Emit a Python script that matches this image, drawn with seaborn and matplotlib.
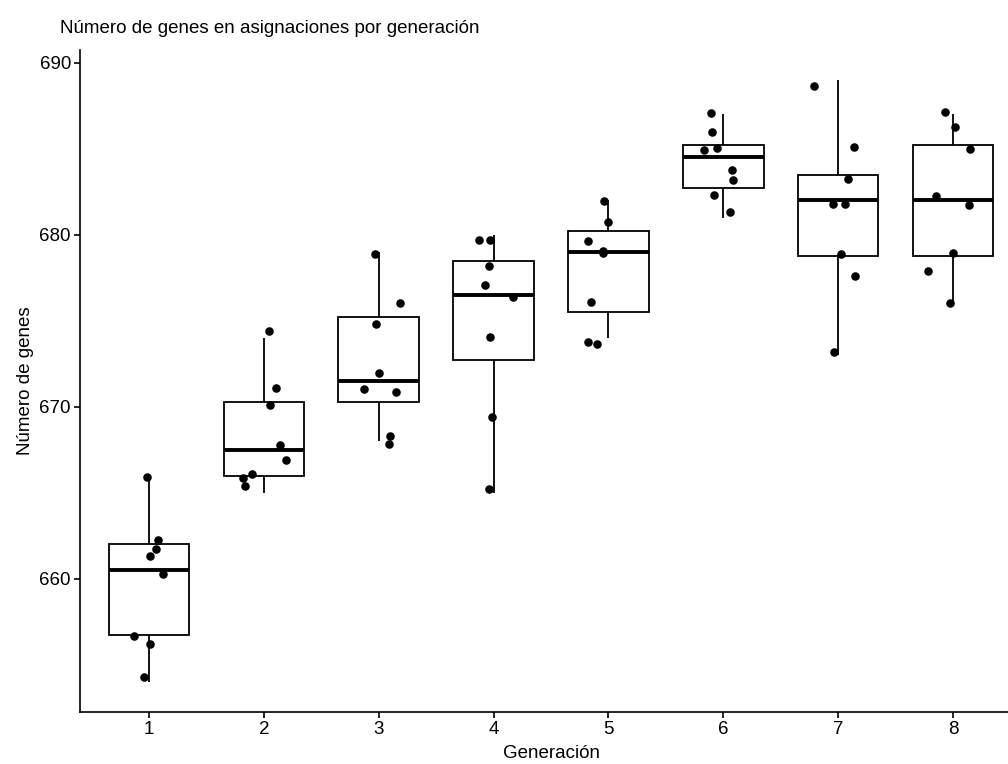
import matplotlib
matplotlib.use("Agg")
import matplotlib.pyplot as plt
import pandas as pd
import seaborn as sns

# ---- data ----
generation = [1] * 8 + [2] * 8 + [3] * 8 + [4] * 8 + [5] * 8 + [6] * 8 + [7] * 8 + [8] * 8

# underlying (integer) gene counts used for the box statistics
genes = [
    666, 662, 662, 661, 660, 657, 656, 654,
    674, 671, 670, 668, 667, 666, 666, 665,
    679, 676, 675, 672, 671, 671, 668, 668,
    680, 680, 678, 677, 676, 674, 669, 665,
    682, 681, 680, 679, 679, 676, 674, 674,
    687, 686, 685, 685, 684, 683, 682, 681,
    689, 685, 683, 682, 682, 679, 678, 673,
    687, 686, 685, 682, 682, 679, 678, 676,
]

# jittered point positions as drawn in the reference
point_y = [
    665.93, 662.25, 661.74, 661.30, 660.25, 656.67, 656.20, 654.30,
    674.38, 671.12, 670.08, 667.75, 666.88, 666.10, 665.85, 665.39,
    678.91, 676.06, 674.81, 671.94, 671.05, 670.87, 668.33, 667.85,
    679.71, 679.71, 678.20, 677.08, 676.40, 674.03, 669.42, 665.21,
    681.94, 680.72, 679.65, 679.07, 678.95, 676.12, 673.74, 673.64,
    687.11, 685.99, 685.04, 684.92, 683.78, 683.18, 682.33, 681.30,
    688.66, 685.12, 683.24, 681.78, 681.78, 678.91, 677.63, 673.16,
    687.17, 686.26, 685.02, 682.25, 681.76, 678.97, 677.87, 676.03,
]
point_dx = [
    -0.015, 0.078, 0.061, 0.009, 0.122, -0.128, 0.009, -0.040,
    0.046, 0.110, 0.055, 0.142, 0.191, -0.100, -0.180, -0.165,
    -0.035, 0.188, -0.020, 0.000, -0.130, 0.150, 0.098, 0.093,
    -0.130, -0.035, -0.040, -0.078, 0.165, -0.035, -0.012, -0.040,
    -0.035, -0.006, -0.174, -0.046, -0.050, -0.150, -0.180, -0.100,
    -0.107, -0.100, -0.058, -0.165, 0.078, 0.087, -0.084, 0.055,
    -0.210, 0.136, 0.087, -0.043, 0.058, 0.026, 0.145, -0.040,
    -0.072, 0.020, 0.145, -0.148, 0.139, 0.000, -0.215, -0.026,
]

x_ticks = [1, 2, 3, 4, 5, 6, 7, 8]
y_ticks = [660, 670, 680, 690]

title = "Número de genes en asignaciones por generación"
x_label = "Generación"
y_label = "Número de genes"

# ---- plot ----
sns.set_theme(style="ticks")
plt.rcParams["font.family"] = ["Liberation Sans", "DejaVu Sans"]

W, H = 1008, 764
fig = plt.figure(figsize=(W / 100, H / 100), dpi=100)
ax = fig.add_axes([80 / W, 52 / H, 942 / W, 662 / H])

df_box = pd.DataFrame({"gen": generation, "genes": genes})
sns.boxplot(
    data=df_box, x="gen", y="genes", native_scale=True, width=0.7,
    color="white", saturation=1, linecolor="black", linewidth=1.3,
    fliersize=0, showcaps=False,
    medianprops=dict(linewidth=2.8, color="black"),
    ax=ax,
)

df_pts = pd.DataFrame({"x": [g + d for g, d in zip(generation, point_dx)], "y": point_y})
sns.scatterplot(data=df_pts, x="x", y="y", color="black", s=38, linewidth=0,
                ax=ax, zorder=5)

ax.set_xlim(0.4, 8.6)
ax.set_ylim(652.25, 690.75)
ax.set_xticks(x_ticks)
ax.set_xticklabels([str(t) for t in x_ticks])
ax.set_yticks(y_ticks)
ax.set_yticklabels([str(t) for t in y_ticks])

for s in ["top", "right"]:
    ax.spines[s].set_visible(False)
for s in ["left", "bottom"]:
    ax.spines[s].set_linewidth(1.2)
    ax.spines[s].set_color("black")

ax.tick_params(axis="both", length=4.5, width=1.2, color="black",
               labelcolor="black", labelsize=13.5, pad=2)
ax.set_xlabel(x_label, fontsize=13.5, labelpad=5, color="black")
ax.set_ylabel(y_label, fontsize=13.5, labelpad=4, color="black")

fig.text(60 / W, 1 - 33 / H, title, fontsize=13.5, ha="left", va="baseline",
         color="black")

fig.savefig("out.png", dpi=100)
